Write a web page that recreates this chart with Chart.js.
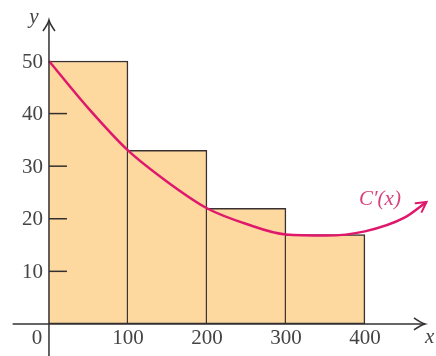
<!DOCTYPE html>
<html>
<head>
<meta charset="utf-8">
<script src="https://cdn.jsdelivr.net/npm/chart.js@4"></script>
<style>
  html, body { margin: 0; padding: 0; background: #fff; }
  #wrap { width: 436px; height: 356px; }
</style>
</head>
<body>
<div id="wrap"><canvas id="chart"></canvas></div>
<script>
// Data
const binStarts = [0, 100, 200, 300];
const binWidth = 100;
const binHeights = [50, 33, 22, 17];
const curveX = [0, 50, 100, 150, 200, 250, 300, 350, 400, 450, 478];
const curveY = [50, 41, 33, 27, 22, 19, 17, 16.8, 17.6, 20.2, 23.2];
const xTicks = [0, 100, 200, 300, 400];
const yTicks = [10, 20, 30, 40, 50];
const curveLabel = 'C\u2032(x)';

const AXIS = '#333030';
const TEXT = '#444';
const CURVE = '#e0186c';
const FONT = '"Liberation Serif", "DejaVu Serif", serif';

// Axes, ticks and labels drawn on top of the bars
const axesPlugin = {
    id: 'axes',
    afterDatasetsDraw(chart) {
        const { ctx, scales: { x, y } } = chart;
        const x0 = x.getPixelForValue(0);
        const y0 = y.getPixelForValue(0);
        ctx.save();
        ctx.strokeStyle = AXIS;
        ctx.fillStyle = TEXT;
        ctx.lineWidth = 1.5;

        // x axis
        const xEnd = x.getPixelForValue(476);
        ctx.beginPath();
        ctx.moveTo(x.getPixelForValue(-46), y0);
        ctx.lineTo(xEnd, y0);
        ctx.stroke();
        ctx.beginPath();
        ctx.moveTo(xEnd - 11, y0 - 6);
        ctx.quadraticCurveTo(xEnd - 4, y0 - 1, xEnd, y0);
        ctx.quadraticCurveTo(xEnd - 4, y0 + 1, xEnd - 11, y0 + 6);
        ctx.stroke();

        // y axis
        const yTop = y.getPixelForValue(57.8);
        ctx.beginPath();
        ctx.moveTo(x0, chart.height);
        ctx.lineTo(x0, yTop);
        ctx.stroke();
        ctx.beginPath();
        ctx.moveTo(x0 - 6, yTop + 11);
        ctx.quadraticCurveTo(x0 - 1, yTop + 4, x0, yTop);
        ctx.quadraticCurveTo(x0 + 1, yTop + 4, x0 + 6, yTop + 11);
        ctx.stroke();

        // y ticks
        ctx.font = '21px ' + FONT;
        ctx.textAlign = 'right';
        ctx.textBaseline = 'middle';
        yTicks.forEach(v => {
            const py = y.getPixelForValue(v);
            if (v < 50) {
                ctx.beginPath();
                ctx.moveTo(x0, py);
                ctx.lineTo(x0 + 18, py);
                ctx.stroke();
            }
            ctx.fillText(String(v), x0 - 6, py + 1);
        });

        // x ticks
        ctx.textAlign = 'center';
        xTicks.forEach(v => {
            let px = x.getPixelForValue(v);
            if (v === 0) px -= 12;
            ctx.fillText(String(v), px, y0 + 15);
        });

        // axis names
        ctx.font = 'italic 21px ' + FONT;
        ctx.fillText('y', x0 - 15, yTop - 2);
        ctx.fillText('x', x.getPixelForValue(482), y0 + 14);
        ctx.restore();
    }
};

// Arrowhead and label for the curve
const curvePlugin = {
    id: 'curveArrow',
    afterDatasetsDraw(chart) {
        const { ctx } = chart;
        const pts = chart.getDatasetMeta(1).data;
        const end = pts[pts.length - 1];
        const cx = end.cp1x !== undefined ? end.cp1x : pts[pts.length - 2].x;
        const cy = end.cp1y !== undefined ? end.cp1y : pts[pts.length - 2].y;
        const ang = Math.atan2(end.y - cy, end.x - cx);
        ctx.save();
        ctx.strokeStyle = CURVE;
        ctx.lineWidth = 2;
        ctx.lineCap = 'round';
        ctx.beginPath();
        ctx.moveTo(end.x - 11 * Math.cos(ang - 0.5), end.y - 11 * Math.sin(ang - 0.5));
        ctx.lineTo(end.x, end.y);
        ctx.lineTo(end.x - 11 * Math.cos(ang + 0.5), end.y - 11 * Math.sin(ang + 0.5));
        ctx.stroke();

        ctx.fillStyle = '#d8407c';
        ctx.font = 'italic 21px ' + FONT;
        ctx.textAlign = 'center';
        ctx.textBaseline = 'middle';
        const { x, y } = chart.scales;
        ctx.fillText(curveLabel, x.getPixelForValue(419), y.getPixelForValue(23.6));
        ctx.restore();
    }
};

new Chart(document.getElementById('chart'), {
    data: {
        datasets: [{
            type: 'bar',
            data: binStarts.map((s, i) => ({ x: s + binWidth / 2, y: binHeights[i] })),
            backgroundColor: '#fdd9a0',
            borderColor: '#3a3030',
            borderWidth: 1.5,
            borderSkipped: 'left',
            barPercentage: 1,
            categoryPercentage: 1,
            order: 2
        }, {
            type: 'line',
            data: curveX.map((v, i) => ({ x: v, y: curveY[i] })),
            borderColor: CURVE,
            borderWidth: 2.5,
            pointRadius: 0,
            fill: false,
            tension: 0.4,
            cubicInterpolationMode: 'monotone',
            order: 1
        }]
    },
    options: {
        responsive: true,
        maintainAspectRatio: false,
        animation: false,
        layout: { padding: 0 },
        plugins: { legend: { display: false }, tooltip: { enabled: false } },
        scales: {
            x: {
                type: 'linear', min: -62, max: 490, display: false,
                offset: false, grid: { offset: false },
                afterBuildTicks: s => { s.ticks = xTicks.map(v => ({ value: v })); }
            },
            y: { type: 'linear', min: -6.1, max: 61.6, display: false }
        }
    },
    plugins: [axesPlugin, curvePlugin]
});
</script>
</body>
</html>
